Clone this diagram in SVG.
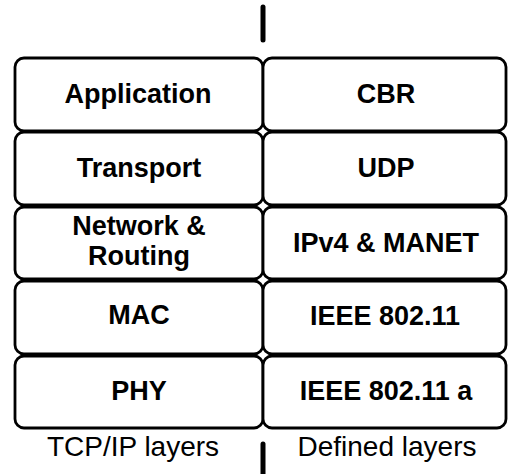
<svg xmlns="http://www.w3.org/2000/svg" width="508" height="474" viewBox="0 0 508 474">
<style>
.box{fill:#fff;stroke:#000;stroke-width:2.8}
.t{font-family:"Liberation Sans",Arial,sans-serif;font-weight:bold;font-size:27px;text-anchor:middle;fill:#000}
.c{font-family:"Liberation Sans",Arial,sans-serif;font-size:28px;text-anchor:middle;fill:#000}
.sep{stroke:#000;stroke-width:5;stroke-linecap:round}
</style>
<rect width="508" height="474" fill="#fff"/>
<g id="connectors">
<line class="sep" x1="263" y1="7" x2="263" y2="40"/>
<line class="sep" x1="263" y1="444" x2="263" y2="474"/>
</g>
<g id="app"><rect class="box" x="15" y="58" width="248" height="73" rx="9"/><text class="t" x="138" y="103">Application</text></g>
<g id="transport"><rect class="box" x="15" y="132" width="248" height="73" rx="9"/><text class="t" x="139" y="177">Transport</text></g>
<g id="network"><rect class="box" x="15" y="207" width="248" height="72" rx="9"/><text class="t" x="139" y="235">Network &amp;</text><text class="t" x="139" y="265">Routing</text></g>
<g id="mac"><rect class="box" x="15" y="281" width="248" height="73" rx="9"/><text class="t" x="139" y="324">MAC</text></g>
<g id="phy"><rect class="box" x="15" y="356" width="248" height="72" rx="9"/><text class="t" x="139" y="400">PHY</text></g>
<g id="cbr"><rect class="box" x="263" y="58" width="243" height="73" rx="9"/><text class="t" x="386" y="103">CBR</text></g>
<g id="udp"><rect class="box" x="263" y="132" width="243" height="73" rx="9"/><text class="t" x="386" y="177">UDP</text></g>
<g id="ipv4"><rect class="box" x="263" y="207" width="243" height="72" rx="9"/><text class="t" x="386" y="252">IPv4 &amp; MANET</text></g>
<g id="ieee"><rect class="box" x="263" y="281" width="243" height="73" rx="9"/><text class="t" x="385" y="325">IEEE 802.11</text></g>
<g id="ieeea"><rect class="box" x="263" y="356" width="243" height="72" rx="9"/><text class="t" x="386" y="400">IEEE 802.11 a</text></g>
<g id="labels">
<text class="c" x="133" y="456">TCP/IP layers</text>
<text class="c" x="387" y="456">Defined layers</text>
</g>
</svg>
